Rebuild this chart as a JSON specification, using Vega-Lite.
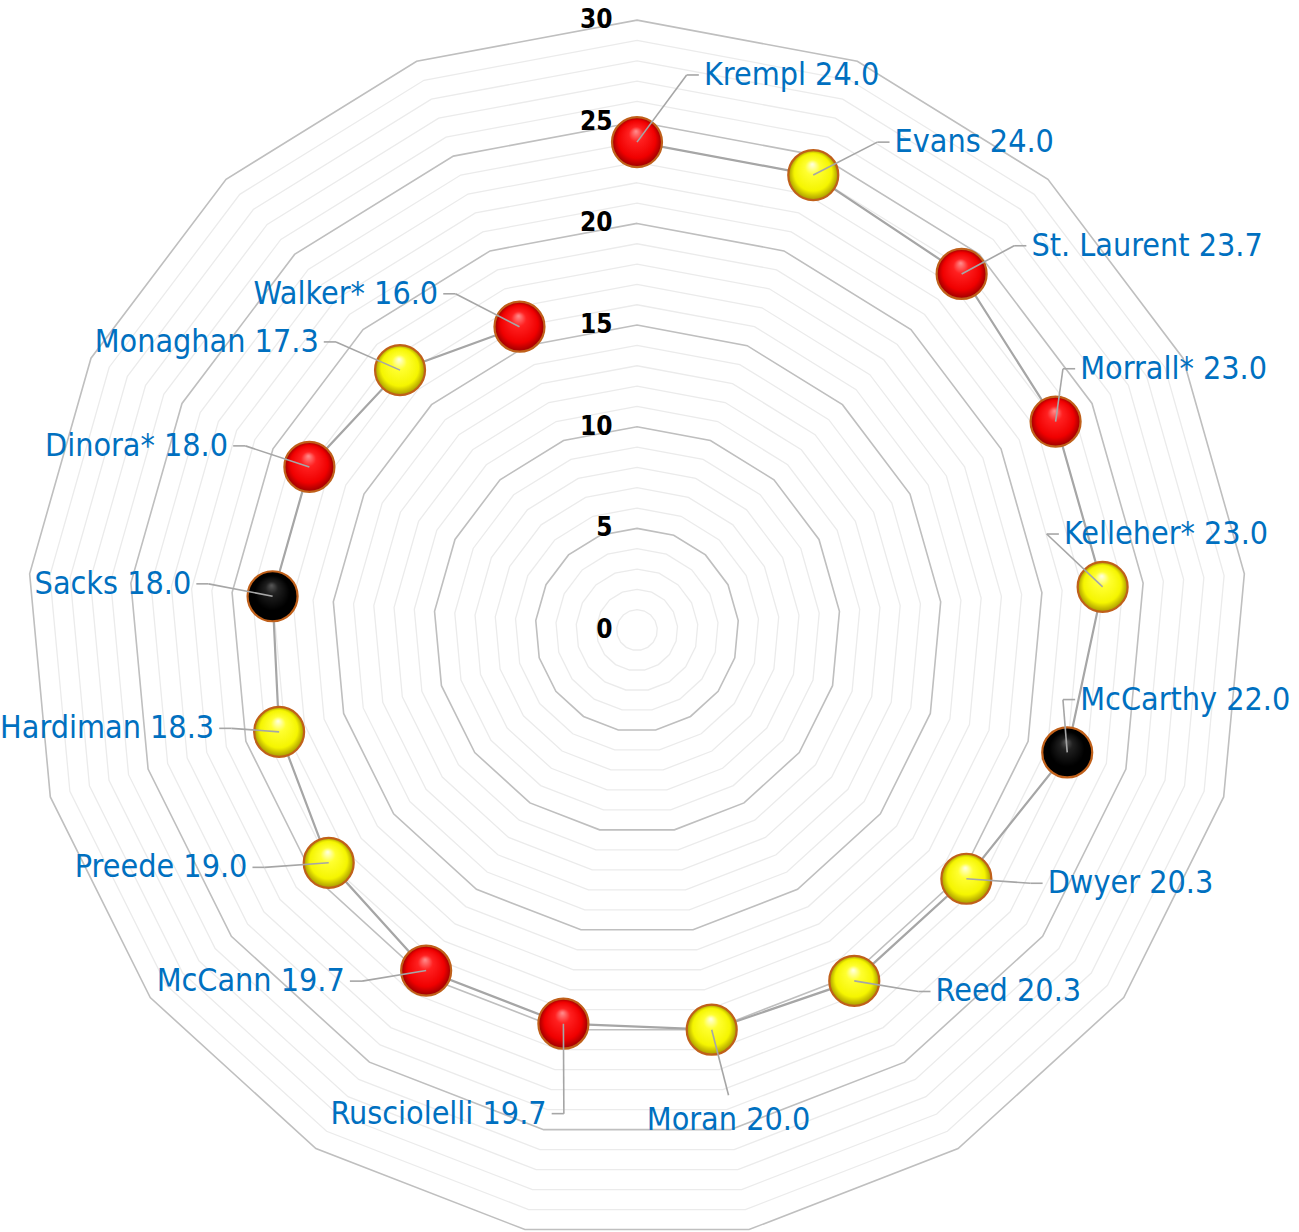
{
  "$schema": "https://vega.github.io/schema/vega-lite/v6.json",
  "width": 1299,
  "height": 1232,
  "autosize": {"type": "none"},
  "padding": 0,
  "background": "white",
  "config": {"view": {"stroke": null}},
  "datasets": {
    "players": [
      {"idx": 0, "name": "Krempl", "value": 24.0, "color": "red"},
      {"idx": 1, "name": "Evans", "value": 24.0, "color": "yellow"},
      {"idx": 2, "name": "St. Laurent", "value": 23.7, "color": "red"},
      {"idx": 3, "name": "Morrall*", "value": 23.0, "color": "red"},
      {"idx": 4, "name": "Kelleher*", "value": 23.0, "color": "yellow"},
      {"idx": 5, "name": "McCarthy", "value": 22.0, "color": "black"},
      {"idx": 6, "name": "Dwyer", "value": 20.3, "color": "yellow"},
      {"idx": 7, "name": "Reed", "value": 20.3, "color": "yellow"},
      {"idx": 8, "name": "Moran", "value": 20.0, "color": "yellow"},
      {"idx": 9, "name": "Rusciolelli", "value": 19.7, "color": "red"},
      {"idx": 10, "name": "McCann", "value": 19.7, "color": "red"},
      {"idx": 11, "name": "Preede", "value": 19.0, "color": "yellow"},
      {"idx": 12, "name": "Hardiman", "value": 18.3, "color": "yellow"},
      {"idx": 13, "name": "Sacks", "value": 18.0, "color": "black"},
      {"idx": 14, "name": "Dinora*", "value": 18.0, "color": "red"},
      {"idx": 15, "name": "Monaghan", "value": 17.3, "color": "yellow"},
      {"idx": 16, "name": "Walker*", "value": 16.0, "color": "red"}
    ],
    "ticks": [{"t": 0}, {"t": 5}, {"t": 10}, {"t": 15}, {"t": 20}, {"t": 25}, {"t": 30}],
    "grid": [
      {"level": 1, "k": [0,1,2,3,4,5,6,7,8,9,10,11,12,13,14,15,16]},
      {"level": 2, "k": [0,1,2,3,4,5,6,7,8,9,10,11,12,13,14,15,16]},
      {"level": 3, "k": [0,1,2,3,4,5,6,7,8,9,10,11,12,13,14,15,16]},
      {"level": 4, "k": [0,1,2,3,4,5,6,7,8,9,10,11,12,13,14,15,16]},
      {"level": 5, "k": [0,1,2,3,4,5,6,7,8,9,10,11,12,13,14,15,16]},
      {"level": 6, "k": [0,1,2,3,4,5,6,7,8,9,10,11,12,13,14,15,16]},
      {"level": 7, "k": [0,1,2,3,4,5,6,7,8,9,10,11,12,13,14,15,16]},
      {"level": 8, "k": [0,1,2,3,4,5,6,7,8,9,10,11,12,13,14,15,16]},
      {"level": 9, "k": [0,1,2,3,4,5,6,7,8,9,10,11,12,13,14,15,16]},
      {"level": 10, "k": [0,1,2,3,4,5,6,7,8,9,10,11,12,13,14,15,16]},
      {"level": 11, "k": [0,1,2,3,4,5,6,7,8,9,10,11,12,13,14,15,16]},
      {"level": 12, "k": [0,1,2,3,4,5,6,7,8,9,10,11,12,13,14,15,16]},
      {"level": 13, "k": [0,1,2,3,4,5,6,7,8,9,10,11,12,13,14,15,16]},
      {"level": 14, "k": [0,1,2,3,4,5,6,7,8,9,10,11,12,13,14,15,16]},
      {"level": 15, "k": [0,1,2,3,4,5,6,7,8,9,10,11,12,13,14,15,16]},
      {"level": 16, "k": [0,1,2,3,4,5,6,7,8,9,10,11,12,13,14,15,16]},
      {"level": 17, "k": [0,1,2,3,4,5,6,7,8,9,10,11,12,13,14,15,16]},
      {"level": 18, "k": [0,1,2,3,4,5,6,7,8,9,10,11,12,13,14,15,16]},
      {"level": 19, "k": [0,1,2,3,4,5,6,7,8,9,10,11,12,13,14,15,16]},
      {"level": 20, "k": [0,1,2,3,4,5,6,7,8,9,10,11,12,13,14,15,16]},
      {"level": 21, "k": [0,1,2,3,4,5,6,7,8,9,10,11,12,13,14,15,16]},
      {"level": 22, "k": [0,1,2,3,4,5,6,7,8,9,10,11,12,13,14,15,16]},
      {"level": 23, "k": [0,1,2,3,4,5,6,7,8,9,10,11,12,13,14,15,16]},
      {"level": 24, "k": [0,1,2,3,4,5,6,7,8,9,10,11,12,13,14,15,16]},
      {"level": 25, "k": [0,1,2,3,4,5,6,7,8,9,10,11,12,13,14,15,16]},
      {"level": 26, "k": [0,1,2,3,4,5,6,7,8,9,10,11,12,13,14,15,16]},
      {"level": 27, "k": [0,1,2,3,4,5,6,7,8,9,10,11,12,13,14,15,16]},
      {"level": 28, "k": [0,1,2,3,4,5,6,7,8,9,10,11,12,13,14,15,16]},
      {"level": 29, "k": [0,1,2,3,4,5,6,7,8,9,10,11,12,13,14,15,16]},
      {"level": 30, "k": [0,1,2,3,4,5,6,7,8,9,10,11,12,13,14,15,16]}
    ]
  },
  "layer": [
    {
      "data": {"name": "grid"},
      "transform": [
        {"flatten": ["k"]},
        {"calculate": "datum.level*sin(datum.k*2*PI/17)", "as": "gx"},
        {"calculate": "datum.level*cos(datum.k*2*PI/17)", "as": "gy"}
      ],
      "layer": [
        {
          "transform": [{"filter": "datum.level % 5 != 0"}],
          "mark": {"type": "line", "interpolate": "linear-closed", "color": "#EBEBEB", "strokeWidth": 1.3},
          "encoding": {
            "x": {"field": "gx", "type": "quantitative", "scale": {"domain": [-31.33, 32.56], "nice": false, "zero": false}, "axis": null},
            "y": {"field": "gy", "type": "quantitative", "scale": {"domain": [-29.61, 30.99], "nice": false, "zero": false}, "axis": null},
            "detail": {"field": "level", "type": "nominal"},
            "order": {"field": "k", "type": "quantitative"}
          }
        },
        {
          "transform": [{"filter": "datum.level % 5 == 0"}],
          "mark": {"type": "line", "interpolate": "linear-closed", "color": "#BFBFBF", "strokeWidth": 1.6},
          "encoding": {
            "x": {"field": "gx", "type": "quantitative", "scale": {"domain": [-31.33, 32.56], "nice": false, "zero": false}, "axis": null},
            "y": {"field": "gy", "type": "quantitative", "scale": {"domain": [-29.61, 30.99], "nice": false, "zero": false}, "axis": null},
            "detail": {"field": "level", "type": "nominal"},
            "order": {"field": "k", "type": "quantitative"}
          }
        }
      ]
    },
    {
      "data": {"name": "ticks"},
      "mark": {"type": "text", "align": "right", "baseline": "middle", "font": "DejaVu Sans Condensed, DejaVu Sans", "fontWeight": "bold", "fontSize": 26, "color": "#000000"},
      "encoding": {
        "x": {"datum": -1.2, "type": "quantitative", "scale": {"domain": [-31.33, 32.56], "nice": false, "zero": false}, "axis": null},
        "y": {"field": "t", "type": "quantitative", "scale": {"domain": [-29.61, 30.99], "nice": false, "zero": false}, "axis": null},
        "text": {"field": "t", "type": "quantitative"}
      }
    },
    {
      "data": {"name": "players"},
      "transform": [
        {"calculate": "datum.idx*2*PI/17", "as": "th"},
        {"calculate": "sin(datum.th)", "as": "s"},
        {"calculate": "cos(datum.th)", "as": "c"},
        {"calculate": "datum.value*datum.s", "as": "px"},
        {"calculate": "datum.value*datum.c", "as": "py"},
        {"calculate": "datum.name + ' ' + format(datum.value, '.1f')", "as": "label"},
        {"calculate": "datum.c > 0.95 ? 'top' : (datum.c < -0.95 ? 'bottom' : 'mid')", "as": "mode"},
        {"calculate": "datum.mode == 'top' ? 1 : (datum.mode == 'bottom' ? (datum.s < -0.15 ? -1 : 0) : (datum.s > 0 ? 1 : -1))", "as": "side"},
        {"calculate": "datum.mode == 'top' ? (datum.value+3.5)*sin(datum.th+0.12) : (datum.mode == 'bottom' ? (datum.value+4.5)*datum.s : datum.px+datum.side*4)", "as": "lx0"},
        {"calculate": "datum.mode == 'top' ? (datum.value+3.5)*cos(datum.th+0.12) : (datum.mode == 'bottom' ? (datum.value+4.5)*datum.c : datum.py+1.2*datum.c+0.5)", "as": "ly0"},
        {"calculate": "length(datum.label)*0.8", "as": "wid"},
        {"calculate": "datum.side==1 ? (datum.lx0+datum.wid>32.2) : (datum.side==-1 ? (datum.lx0-datum.wid < -31.2) : false)", "as": "over"},
        {"calculate": "datum.over ? (datum.side==1 ? 32.2-datum.wid : -31.2+datum.wid) : datum.lx0", "as": "lx"},
        {"calculate": "datum.over && (datum.side==1 ? datum.lx < datum.px+1.3 : datum.lx > datum.px-1.3)", "as": "up"},
        {"calculate": "datum.up ? datum.py+2.6 : datum.ly0", "as": "ly"},
        {"calculate": "datum.side==1 ? 'left' : (datum.side==-1 ? 'right' : 'center')", "as": "al"},
        {"calculate": "datum.side!=0 ? datum.lx-datum.side*0.25 : datum.lx", "as": "ex"},
        {"calculate": "datum.side!=0 ? datum.ly : datum.ly-(datum.ly>datum.py?1:-1)*1.2", "as": "ey"},
        {"calculate": "datum.side!=0 ? datum.lx-datum.side*0.85 : datum.ex", "as": "bx"},
        {"calculate": "datum.side!=0 ? datum.ly : datum.ey", "as": "by"}
      ],
      "layer": [
        {
          "mark": {"type": "line", "interpolate": "linear", "color": "#A6A6A6", "strokeWidth": 2.2},
          "encoding": {
            "x": {"field": "px", "type": "quantitative", "scale": {"domain": [-31.33, 32.56], "nice": false, "zero": false}, "axis": null},
            "y": {"field": "py", "type": "quantitative", "scale": {"domain": [-29.61, 30.99], "nice": false, "zero": false}, "axis": null},
            "order": {"field": "idx", "type": "quantitative"}
          }
        },
        {
          "transform": [{"filter": "datum.color == 'red'"}],
          "mark": {"type": "point", "shape": "circle", "filled": true, "size": 2500, "opacity": 1, "stroke": "#C0601A", "strokeWidth": 2.2,
            "fill": {"gradient": "radial", "x1": 0.48, "y1": 0.28, "r1": 0, "x2": 0.5, "y2": 0.5, "r2": 0.5,
              "stops": [{"offset": 0, "color": "#ff9090"}, {"offset": 0.3, "color": "#ff2020"}, {"offset": 0.75, "color": "#f00000"}, {"offset": 1, "color": "#9a0000"}]}},
          "encoding": {
            "x": {"field": "px", "type": "quantitative", "scale": {"domain": [-31.33, 32.56], "nice": false, "zero": false}, "axis": null},
            "y": {"field": "py", "type": "quantitative", "scale": {"domain": [-29.61, 30.99], "nice": false, "zero": false}, "axis": null}
          }
        },
        {
          "transform": [{"filter": "datum.color == 'yellow'"}],
          "mark": {"type": "point", "shape": "circle", "filled": true, "size": 2500, "opacity": 1, "stroke": "#C0601A", "strokeWidth": 2.2,
            "fill": {"gradient": "radial", "x1": 0.48, "y1": 0.28, "r1": 0, "x2": 0.5, "y2": 0.5, "r2": 0.5,
              "stops": [{"offset": 0, "color": "#ffffe8"}, {"offset": 0.3, "color": "#ffff30"}, {"offset": 0.75, "color": "#f5f500"}, {"offset": 1, "color": "#a89800"}]}},
          "encoding": {
            "x": {"field": "px", "type": "quantitative", "scale": {"domain": [-31.33, 32.56], "nice": false, "zero": false}, "axis": null},
            "y": {"field": "py", "type": "quantitative", "scale": {"domain": [-29.61, 30.99], "nice": false, "zero": false}, "axis": null}
          }
        },
        {
          "transform": [{"filter": "datum.color == 'black'"}],
          "mark": {"type": "point", "shape": "circle", "filled": true, "size": 2500, "opacity": 1, "stroke": "#C0601A", "strokeWidth": 2.2,
            "fill": {"gradient": "radial", "x1": 0.48, "y1": 0.28, "r1": 0, "x2": 0.5, "y2": 0.5, "r2": 0.5,
              "stops": [{"offset": 0, "color": "#5a5a5a"}, {"offset": 0.25, "color": "#202020"}, {"offset": 0.7, "color": "#000000"}, {"offset": 1, "color": "#000000"}]}},
          "encoding": {
            "x": {"field": "px", "type": "quantitative", "scale": {"domain": [-31.33, 32.56], "nice": false, "zero": false}, "axis": null},
            "y": {"field": "py", "type": "quantitative", "scale": {"domain": [-29.61, 30.99], "nice": false, "zero": false}, "axis": null}
          }
        },
        {
          "mark": {"type": "rule", "color": "#A6A6A6", "strokeWidth": 1.6},
          "encoding": {
            "x": {"field": "px", "type": "quantitative", "scale": {"domain": [-31.33, 32.56], "nice": false, "zero": false}, "axis": null},
            "y": {"field": "py", "type": "quantitative", "scale": {"domain": [-29.61, 30.99], "nice": false, "zero": false}, "axis": null},
            "x2": {"field": "bx"},
            "y2": {"field": "by"}
          }
        },
        {
          "mark": {"type": "rule", "color": "#A6A6A6", "strokeWidth": 1.6},
          "encoding": {
            "x": {"field": "bx", "type": "quantitative", "scale": {"domain": [-31.33, 32.56], "nice": false, "zero": false}, "axis": null},
            "y": {"field": "by", "type": "quantitative", "scale": {"domain": [-29.61, 30.99], "nice": false, "zero": false}, "axis": null},
            "x2": {"field": "ex"},
            "y2": {"field": "ey"}
          }
        },
        {
          "mark": {"type": "text", "align": {"expr": "datum.al"}, "baseline": "middle", "font": "DejaVu Sans Condensed, DejaVu Sans", "fontSize": 32, "color": "#0070C0"},
          "encoding": {
            "x": {"field": "lx", "type": "quantitative", "scale": {"domain": [-31.33, 32.56], "nice": false, "zero": false}, "axis": null},
            "y": {"field": "ly", "type": "quantitative", "scale": {"domain": [-29.61, 30.99], "nice": false, "zero": false}, "axis": null},
            "text": {"field": "label", "type": "nominal"}
          }
        }
      ]
    }
  ]
}
